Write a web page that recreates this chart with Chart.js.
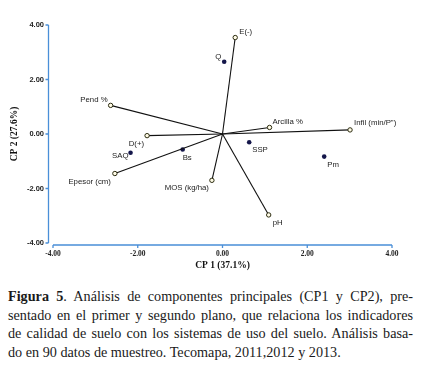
<!DOCTYPE html>
<html>
<head>
<meta charset="utf-8">
<script src="https://cdn.jsdelivr.net/npm/chart.js@4/dist/chart.umd.min.js"></script>
<style>
  html, body { margin: 0; padding: 0; background: #fff; }
  #wrap { position: relative; width: 442px; height: 275px; }
  #caption {
    position: absolute; left: 8px; top: 287px; width: 405px;
    font-family: "Liberation Serif", "Times New Roman", serif;
    font-size: 14.2px; line-height: 18.7px; color: #1a1a1a; margin: 0;
  }
  #caption span { display: block; white-space: nowrap; text-align: justify; text-align-last: justify; }
  #caption span.last { text-align-last: left; }
</style>
</head>
<body>
<div id="wrap"><canvas id="myChart" width="442" height="275"></canvas></div>
<p id="caption"><span><b>Figura 5</b>. Análisis de componentes principales (CP1 y CP2), pre-</span><span>sentado en el primer y segundo plano, que relaciona los indicadores</span><span>de calidad de suelo con los sistemas de uso del suelo. Análisis basa-</span><span class="last">do en 90 datos de muestreo. Tecomapa, 2011,2012 y 2013.</span></p>
<script>
// loading vectors (soil quality indicators)
const vector_names = ['E(-)', 'Pend %', 'Arcilla %', 'Infil (min/P")', 'D(+)', 'Epesor (cm)', 'MOS (kg/ha)', 'pH'];
const vector_x = [0.30, -2.64, 1.11, 3.01, -1.78, -2.54, -0.25, 1.09];
const vector_y = [3.54, 1.05, 0.24, 0.15, -0.06, -1.45, -1.70, -2.97];

// land use systems (scores)
const site_names = ['Q', 'SAQ', 'Bs', 'SSP', 'Pm'];
const site_x = [0.04, -2.17, -0.94, 0.63, 2.40];
const site_y = [2.65, -0.69, -0.57, -0.30, -0.83];

const tick_values = [-4, -2, 0, 2, 4];

// label anchors: [dx, dy, align]
const vector_label_pos = [[4, -6, 'left'], [-3, -6, 'right'], [3, -6, 'left'], [4, -7, 'left'],
  [-3, 8, 'right'], [-4, 8, 'right'], [-3, 8, 'right'], [4, 8, 'left']];
const site_label_pos = [[-3, -5, 'right'], [-2, 3, 'right'], [0, 8, 'left'], [3, 8, 'left'], [3, 8, 'left']];

const axis_blue = '#4a8fd8';

let datasets = [];
vector_names.forEach((name, i) => {
  datasets.push({
    label: name,
    type: 'line',
    data: [{x: 0, y: 0}, {x: vector_x[i], y: vector_y[i]}],
    borderColor: '#111',
    borderWidth: 1.1,
    pointRadius: [0, 2.2],
    pointBorderWidth: 1,
    pointBorderColor: '#2b2b10',
    pointBackgroundColor: '#fffbe6',
    tension: 0,
  });
});
datasets.push({
  label: 'sites',
  type: 'scatter',
  data: site_x.map((x, i) => ({x: x, y: site_y[i]})),
  pointRadius: 2.3,
  pointBorderWidth: 0,
  pointBackgroundColor: '#14164a',
});

const labelPlugin = {
  id: 'labels',
  afterDatasetsDraw(chart) {
    const ctx = chart.ctx;
    const xs = chart.scales.x, ys = chart.scales.y;
    ctx.save();
    ctx.font = '7.8px "Liberation Sans", Arial, sans-serif';
    ctx.fillStyle = '#222';
    ctx.textBaseline = 'middle';
    const put = (txt, x, y, pos) => {
      ctx.textAlign = pos[2];
      ctx.fillText(txt, xs.getPixelForValue(x) + pos[0], ys.getPixelForValue(y) + pos[1]);
    };
    vector_names.forEach((n, i) => put(n, vector_x[i], vector_y[i], vector_label_pos[i]));
    site_names.forEach((n, i) => put(n, site_x[i], site_y[i], site_label_pos[i]));
    ctx.restore();
  }
};

// SPSS style axes with a small gap at the corner
const axesPlugin = {
  id: 'axes',
  beforeDatasetsDraw(chart) {
    const ctx = chart.ctx;
    const xs = chart.scales.x, ys = chart.scales.y;
    const ax = xs.getPixelForValue(-4) - 4.5;
    const ay = ys.getPixelForValue(-4) + 2;
    ctx.save();
    ctx.strokeStyle = axis_blue;
    ctx.lineWidth = 1.3;
    ctx.beginPath();
    ctx.moveTo(ax, ys.getPixelForValue(4));
    ctx.lineTo(ax, ys.getPixelForValue(-4));
    tick_values.forEach(v => {
      const py = ys.getPixelForValue(v);
      ctx.moveTo(ax, py);
      ctx.lineTo(ax - 3, py);
    });
    ctx.moveTo(xs.getPixelForValue(-4), ay);
    ctx.lineTo(xs.getPixelForValue(4), ay);
    tick_values.forEach(v => {
      const px = xs.getPixelForValue(v);
      ctx.moveTo(px, ay);
      ctx.lineTo(px, ay + 3);
    });
    ctx.stroke();
    ctx.restore();
  }
};

const config = {
  type: 'scatter',
  data: {datasets: datasets},
  options: {
    responsive: false,
    animation: false,
    layout: {padding: {top: 25, right: 50, left: 0, bottom: 0}},
    plugins: {legend: {display: false}, tooltip: {enabled: false}},
    scales: {
      x: {
        type: 'linear', min: -4, max: 4,
        afterBuildTicks: (s) => { s.ticks = tick_values.map(v => ({value: v})); },
        afterFit: (s) => { s.height = 32; },
        grid: {display: false, drawTicks: false},
        border: {display: false},
        ticks: {
          padding: 7, color: '#222',
          font: {family: '"Liberation Serif", serif', size: 7.5, weight: 'bold'},
          callback: (v) => v.toFixed(2),
        },
        title: {
          display: true, text: 'CP 1 (37.1%)', color: '#111',
          font: {family: '"Liberation Serif", serif', size: 9.5, weight: 'bold'},
          padding: {top: 0, bottom: 4},
        },
      },
      y: {
        type: 'linear', min: -4, max: 4,
        afterBuildTicks: (s) => { s.ticks = tick_values.map(v => ({value: v})); },
        afterFit: (s) => { s.width = 53; },
        grid: {display: false, drawTicks: false},
        border: {display: false},
        ticks: {
          padding: 9, color: '#222',
          font: {family: '"Liberation Sans", Arial, sans-serif', size: 7.5, weight: 'bold'},
          callback: (v) => v.toFixed(2),
        },
        title: {
          display: true, text: 'CP 2 (27.6%)', color: '#111',
          font: {family: '"Liberation Serif", serif', size: 9.5, weight: 'bold'},
          padding: {top: 9, bottom: 0},
        },
      },
    },
  },
  plugins: [axesPlugin, labelPlugin],
};

const myChart = new Chart(document.getElementById('myChart'), config);
</script>
</body>
</html>
